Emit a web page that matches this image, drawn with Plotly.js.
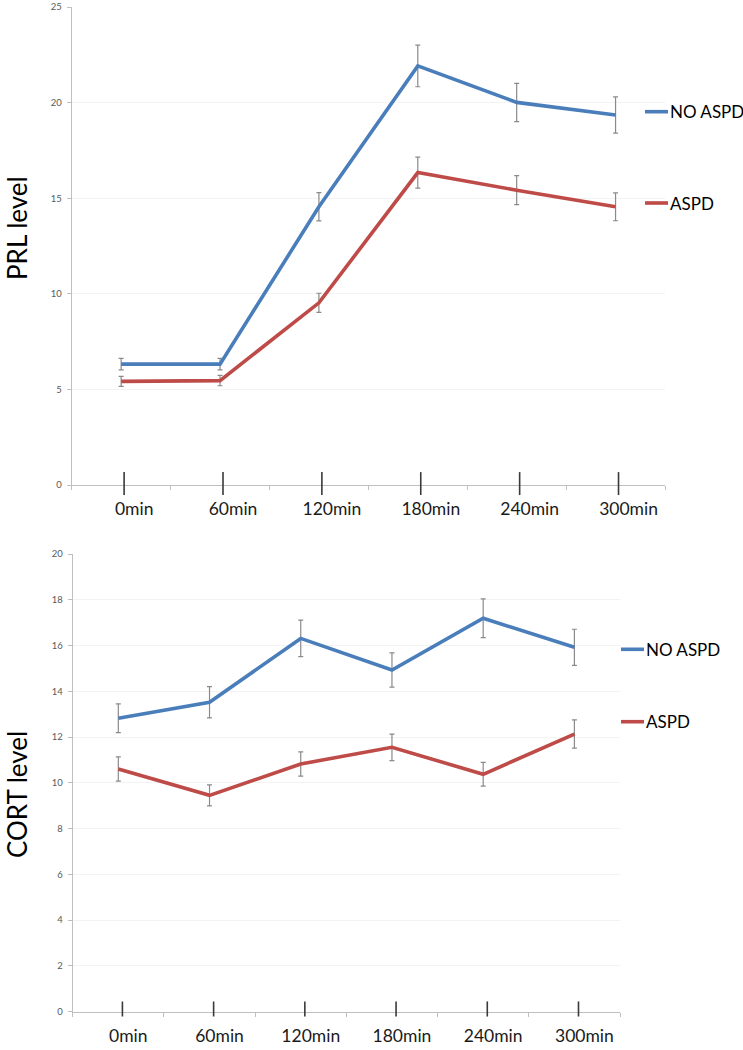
<!DOCTYPE html>
<html>
<head>
<meta charset="utf-8">
<script src="https://cdn.plot.ly/plotly-3.0.1.min.js"></script>
<style>
  html, body { margin: 0; padding: 0; background: #ffffff; }
  #chart { width: 743px; height: 1050px; }
</style>
</head>
<body>
<div id="chart"></div>
<script>
// ---- Data ----
var timePoints = ['0min', '60min', '120min', '180min', '240min', '300min'];
var seriesNames = ['NO ASPD', 'ASPD'];

var prlNoAspd    = [6.32, 6.32, 14.55, 21.92, 20.01, 19.35];
var prlNoAspdErr = [0.30, 0.30, 0.74, 1.09, 1.00, 0.95];
var prlAspd      = [5.42, 5.46, 9.53, 16.34, 15.42, 14.55];
var prlAspdErr   = [0.26, 0.27, 0.50, 0.81, 0.76, 0.73];

var cortNoAspd    = [12.82, 13.52, 16.31, 14.93, 17.19, 15.92];
var cortNoAspdErr = [0.63, 0.68, 0.80, 0.75, 0.85, 0.79];
var cortAspd      = [10.60, 9.45, 10.82, 11.55, 10.37, 12.13];
var cortAspdErr   = [0.53, 0.46, 0.53, 0.58, 0.52, 0.62];

var yTitles = ['PRL level', 'CORT level'];

// ---- Styles ----
var W = 743, H = 1050;
var colors = ['#4a7ebb', '#be4b48'];
var FONT = 'Lato, "Open Sans", "DejaVu Sans", sans-serif';
var errStyle = {color: '#8a8a8a', thickness: 1.2, width: 2.5};

function mkTrace(y, err, idx, xa, ya) {
  return {
    type: 'scatter', mode: 'lines',
    x: timePoints, y: y, name: seriesNames[idx],
    xaxis: xa, yaxis: ya,
    line: {color: colors[idx], width: 3.6},
    error_y: Object.assign({type: 'data', array: err, visible: true}, errStyle),
    showlegend: false, hoverinfo: 'x+y+name'
  };
}

var data = [
  mkTrace(prlNoAspd, prlNoAspdErr, 0, 'x', 'y'),
  mkTrace(prlAspd, prlAspdErr, 1, 'x', 'y'),
  mkTrace(cortNoAspd, cortNoAspdErr, 0, 'x2', 'y2'),
  mkTrace(cortAspd, cortAspdErr, 1, 'x2', 'y2')
];

function px(v) { return v / W; }
function py(v) { return 1 - v / H; }

function xAxis(domain, anchor) {
  return {
    type: 'category', domain: domain, anchor: anchor,
    categoryorder: 'array', categoryarray: timePoints,
    range: [-0.5, timePoints.length - 0.5],
    showline: true, linecolor: '#bfbfbf', linewidth: 1,
    ticks: 'outside', tickson: 'boundaries', ticklen: 4, tickcolor: '#bfbfbf', tickwidth: 1,
    showgrid: false, zeroline: false,
    tickfont: {family: FONT, size: 17.5, color: '#1a1a1a'},
    ticklabelstandoff: 8,
    fixedrange: true
  };
}
function yAxis(domain, anchor, top, dtick) {
  return {
    domain: domain, anchor: anchor, range: [0, top], dtick: dtick, tick0: 0,
    showline: true, linecolor: '#bfbfbf', linewidth: 1,
    ticks: 'outside', ticklen: 4, tickcolor: '#bfbfbf',
    showgrid: true, gridcolor: '#f3f3f3', zeroline: false,
    tickfont: {family: FONT, size: 9.5, color: '#595959'},
    ticklabelstandoff: 3, ticklabeloverflow: 'allow',
    fixedrange: true
  };
}

var layout = {
  width: W, height: H,
  margin: {l: 0, r: 0, t: 0, b: 0},
  paper_bgcolor: '#ffffff', plot_bgcolor: '#ffffff',
  showlegend: false,
  xaxis: Object.assign(xAxis([px(71.7), px(665)], 'y'), {ticklabelshift: 13}),
  yaxis: yAxis([py(485), py(7)], 'x', 25, 5),
  xaxis2: Object.assign(xAxis([px(72.7), px(620)], 'y2'), {ticklabelshift: 10}),
  yaxis2: yAxis([py(1011.5), py(554)], 'x2', 20, 2),
  shapes: [],
  annotations: []
};

// Large hand-drawn style tick marks crossing each x axis at the categories
timePoints.forEach(function (c) {
  layout.shapes.push({type: 'line', xref: 'x', yref: 'y domain', x0: c, x1: c,
    x0shift: 0.03, x1shift: 0.03, y0: -0.021, y1: 0.027,
    line: {color: '#3a3a3a', width: 1.6}});
  layout.shapes.push({type: 'line', xref: 'x2', yref: 'y2 domain', x0: c, x1: c,
    x0shift: 0.045, x1shift: 0.045, y0: -0.011, y1: 0.022,
    line: {color: '#3a3a3a', width: 1.6}});
});

// Y-axis titles
layout.annotations.push({text: yTitles[0], xref: 'paper', yref: 'paper', x: px(17), y: py(228),
  textangle: -90, showarrow: false, xanchor: 'center', yanchor: 'middle', borderpad: 0,
  font: {family: FONT, size: 26, color: '#000000'}});
layout.annotations.push({text: yTitles[1], xref: 'paper', yref: 'paper', x: px(17), y: py(795),
  textangle: -90, showarrow: false, xanchor: 'center', yanchor: 'middle', borderpad: 0,
  font: {family: FONT, size: 26, color: '#000000'}});

// Legends (one per panel)
var legendSpec = [
  {lineX0: 645, lineX1: 668, ys: [111.7, 203]},
  {lineX0: 621, lineX1: 644, ys: [649.3, 721.7]}
];
legendSpec.forEach(function (L) {
  seriesNames.forEach(function (name, i) {
    layout.shapes.push({type: 'line', xref: 'paper', yref: 'paper',
      x0: px(L.lineX0), x1: px(L.lineX1), y0: py(L.ys[i]), y1: py(L.ys[i]),
      line: {color: colors[i], width: 3.6}});
    layout.annotations.push({text: name, xref: 'paper', yref: 'paper',
      x: px(L.lineX1), y: py(L.ys[i]), xanchor: 'left', yanchor: 'middle', showarrow: false,
      font: {family: FONT, size: 17, color: '#000000'}});
  });
});

Plotly.newPlot('chart', data, layout, {displayModeBar: false, staticPlot: true});
</script>
</body>
</html>
